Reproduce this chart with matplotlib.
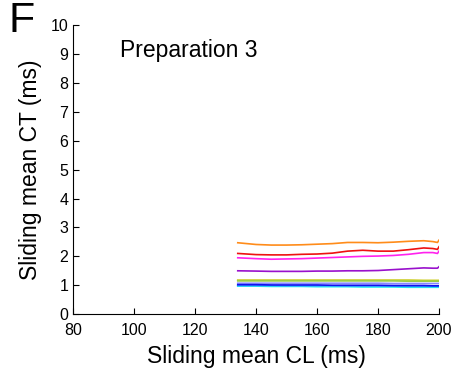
import numpy as np
import matplotlib
matplotlib.use("Agg")
import matplotlib.pyplot as plt

plt.rcParams['font.family'] = ['Liberation Sans', 'DejaVu Sans']

# Sliding mean CL sample points (ms), shared by all traces
cl = [134, 140, 145, 150, 155, 160, 165, 170, 175, 180, 185, 190, 195, 198, 199.5, 200]

# Sliding mean CT (ms) for each trace
ct_orange  = [2.47, 2.41, 2.39, 2.39, 2.40, 2.42, 2.44, 2.48, 2.48, 2.47, 2.49, 2.52, 2.54, 2.51, 2.48, 2.56]
ct_red     = [2.10, 2.06, 2.05, 2.05, 2.07, 2.08, 2.11, 2.18, 2.21, 2.18, 2.18, 2.23, 2.29, 2.27, 2.24, 2.33]
ct_magenta = [1.95, 1.92, 1.90, 1.91, 1.92, 1.94, 1.96, 1.98, 2.00, 2.01, 2.03, 2.07, 2.13, 2.13, 2.10, 2.18]
ct_purple  = [1.50, 1.49, 1.48, 1.48, 1.48, 1.49, 1.49, 1.50, 1.50, 1.51, 1.54, 1.57, 1.60, 1.59, 1.59, 1.64]
ct_gold    = [1.18, 1.18, 1.18, 1.18, 1.18, 1.18, 1.18, 1.18, 1.18, 1.18, 1.18, 1.18, 1.17, 1.17, 1.17, 1.17]
ct_yellowg = [1.15, 1.15, 1.15, 1.15, 1.15, 1.15, 1.15, 1.15, 1.15, 1.15, 1.15, 1.14, 1.14, 1.14, 1.14, 1.14]
ct_lavender = [1.07, 1.07, 1.07, 1.07, 1.07, 1.07, 1.07, 1.07, 1.07, 1.07, 1.06, 1.06, 1.06, 1.06, 1.06, 1.06]
ct_blue    = [1.02, 1.02, 1.01, 1.01, 1.01, 1.01, 1.00, 1.00, 1.00, 1.00, 0.99, 0.99, 0.99, 0.98, 0.98, 0.98]
ct_sky     = [0.99, 0.99, 0.99, 0.98, 0.98, 0.98, 0.98, 0.97, 0.97, 0.97, 0.97, 0.96, 0.96, 0.96, 0.96, 0.96]
ct_cyan    = [0.97, 0.97, 0.96, 0.96, 0.96, 0.95, 0.95, 0.95, 0.94, 0.94, 0.94, 0.93, 0.93, 0.93, 0.93, 0.93]

traces = [
    (ct_orange, '#ff8c1a'),
    (ct_red, '#ee1111'),
    (ct_magenta, '#ff22ee'),
    (ct_purple, '#9911cc'),
    (ct_gold, '#cccc22'),
    (ct_yellowg, '#99cc44'),
    (ct_lavender, '#8888ff'),
    (ct_cyan, '#22eeee'),
    (ct_sky, '#33aaff'),
    (ct_blue, '#1111ee'),
]

fig = plt.figure(figsize=(4.57, 3.74), dpi=100)
ax = fig.add_axes([0.16, 0.16, 0.8006, 0.773])

for vals, col in traces:
    ax.plot(cl, vals, color=col, lw=1.2)

ax.set_xlim(80, 200)
ax.set_ylim(0, 10)
ax.set_xticks(range(80, 201, 20))
ax.set_yticks(range(0, 11))
ax.spines['top'].set_visible(False)
ax.spines['right'].set_visible(False)
ax.tick_params(direction='in', length=4, labelsize=11.5)
ax.tick_params(axis='x', pad=6.5)
ax.tick_params(axis='y', pad=3.5)

ax.set_xlabel('Sliding mean CL (ms)', fontsize=16.5, labelpad=5)
ax.set_ylabel('Sliding mean CT (ms)', fontsize=16.5, labelpad=6)

ax.text(0.128, 0.913, 'Preparation 3', transform=ax.transAxes, fontsize=16.5,
        va='center', ha='left')
fig.text(0.018, 0.997, 'F', fontsize=31, va='top', ha='left')

fig.savefig('out.png', dpi=100)
